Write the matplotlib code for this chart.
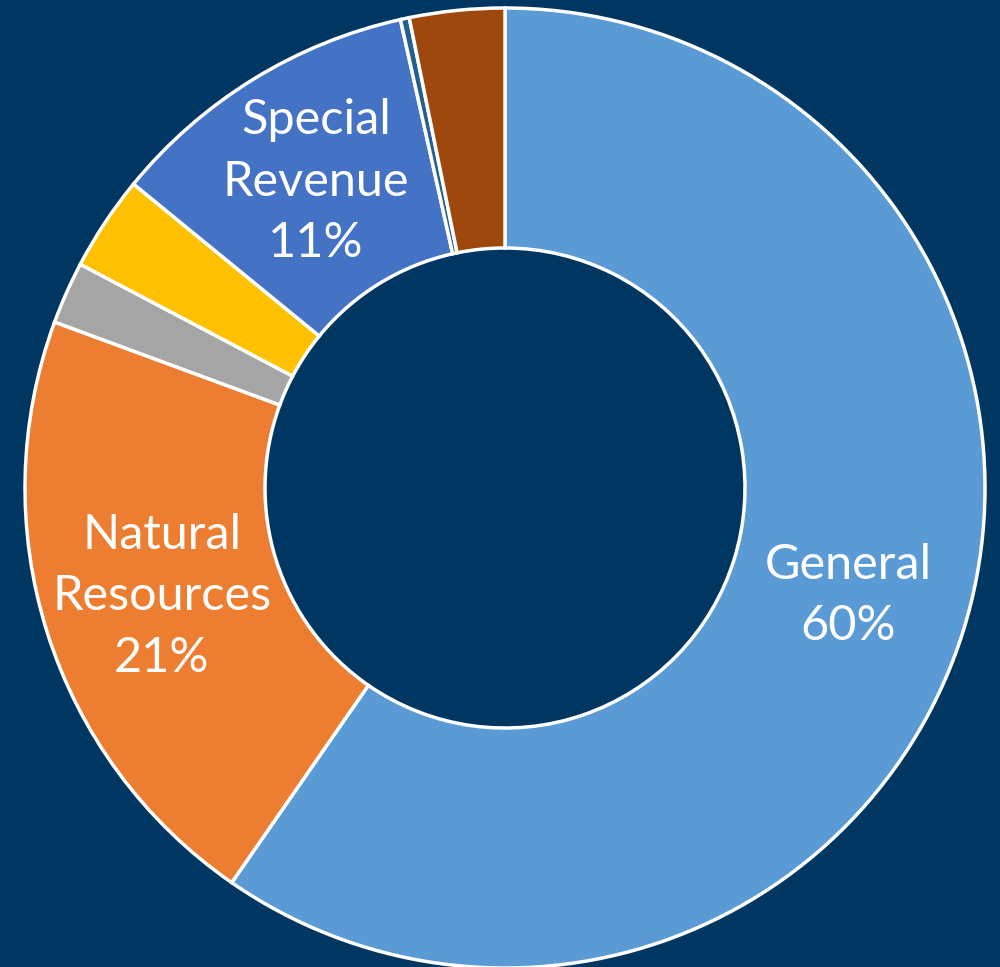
import numpy as np
import matplotlib.pyplot as plt

# fund shares (percent), clockwise from 12 o'clock
funds = ['General', 'Natural\nResources', 'Other A', 'Other B', 'Special\nRevenue', 'Other C', 'Other D']
shares = [59.7, 21.0, 2.1, 3.2, 10.6, 0.3, 3.2]
colors = ['#5B9BD5', '#ED7D31', '#A5A5A5', '#FFC000', '#4472C4', '#255E91', '#9E480E']
show_label = [True, True, False, False, True, False, False]

bg = '#003662'
fig = plt.figure(figsize=(10, 9.67), dpi=100, facecolor=bg)
ax = fig.add_axes([0, 0, 1, 1])
ax.set_facecolor(bg)

cx, cy, R = 505, 967 - 488, 480
wedges, _ = ax.pie(shares, colors=colors, startangle=90, counterclock=False,
                   center=(cx, cy), radius=R,
                   wedgeprops=dict(width=R / 2, edgecolor='white', linewidth=2.5))

for w, name, val, show in zip(wedges, funds, shares, show_label):
    if not show:
        continue
    ang = np.deg2rad((w.theta1 + w.theta2) / 2)
    x = cx + 0.75 * R * np.cos(ang)
    y = cy + 0.75 * R * np.sin(ang)
    ax.text(x, y, f'{name}\n{round(val):.0f}%', ha='center', va='center',
            color='white', fontsize=35, family='Lato', linespacing=1.48)

ax.set_xlim(0, 1000)
ax.set_ylim(0, 967)
ax.set_aspect('equal')
ax.axis('off')

fig.savefig('out.png', dpi=100, facecolor=bg)
